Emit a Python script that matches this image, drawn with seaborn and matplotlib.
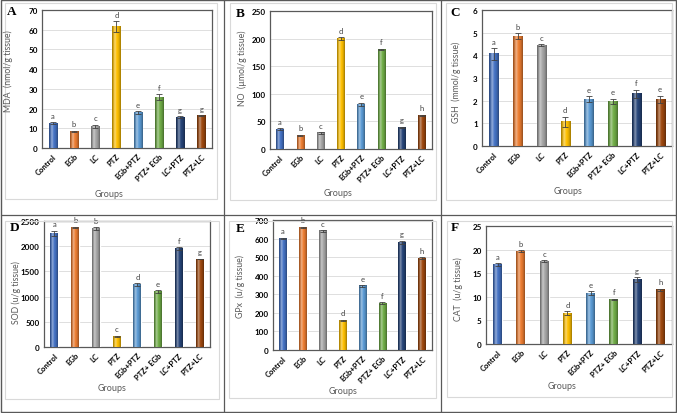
import numpy as np
import pandas as pd
import seaborn as sns
import matplotlib
matplotlib.use("Agg")
import matplotlib.pyplot as plt
from matplotlib.patches import Rectangle
from matplotlib.lines import Line2D
from matplotlib.colors import to_rgb

# ---------------- data ----------------
groups = ["Control", "EGb", "LC", "PTZ", "EGb+PTZ", "PTZ+ EGb", "LC+PTZ", "PTZ+LC"]
colors = ["#4472C4", "#ED7D31", "#A5A5A5", "#FFC000", "#5B9BD5", "#70AD47", "#264478", "#9E480E"]

mda = [12.6, 8.4, 10.9, 61.4, 18.1, 25.7, 15.6, 16.3]
mda_err = [0.5, 0.3, 0.8, 2.8, 0.6, 1.5, 0.4, 0.3]
mda_sig = ["a", "b", "c", "d", "e", "f", "g", "g"]

no = [36, 25, 29, 200, 81, 181, 39, 61]
no_err = [1.5, 1.0, 1.5, 2.0, 3.0, 1.0, 1.0, 1.0]
no_sig = ["a", "b", "c", "d", "e", "f", "g", "h"]

gsh = [4.06, 4.84, 4.45, 1.08, 2.06, 1.97, 2.30, 2.06]
gsh_err = [0.25, 0.14, 0.03, 0.22, 0.13, 0.12, 0.18, 0.16]
gsh_sig = ["a", "b", "c", "d", "e", "e", "f", "e"]

sod = [2250, 2375, 2345, 210, 1237, 1100, 1945, 1745]
sod_err = [55, 12, 30, 10, 30, 25, 30, 8]
sod_sig = ["a", "b", "b", "c", "d", "e", "f", "g"]

gpx = [601, 660, 641, 158, 345, 252, 580, 495]
gpx_err = [4, 4, 4, 4, 4, 4, 8, 4]
gpx_sig = ["a", "b", "c", "d", "e", "f", "g", "h"]

cat = [16.8, 19.7, 17.5, 6.5, 10.8, 9.4, 13.6, 11.5]
cat_err = [0.35, 0.15, 0.2, 0.4, 0.4, 0.15, 0.5, 0.2]
cat_sig = ["a", "b", "c", "d", "e", "f", "g", "h"]

# ---------------- figure ----------------
sns.set_theme(style="white")
plt.rcParams["font.family"] = ["Lato", "DejaVu Sans"]

W, H = 677, 414
fig = plt.figure(figsize=(W / 100, H / 100), dpi=100)
fig.patch.set_facecolor("white")


def fx(x):
    return x / W


def fy(y):
    return 1 - y / H


def px_axes(l, t, r, b):
    return fig.add_axes([l / W, 1 - b / H, (r - l) / W, (b - t) / H])


# frame, dividers and inner boxes
for (x0, y0, x1, y1) in [(5, 4, 217, 200), (230, 4, 436, 201), (446, 4, 672, 201),
                         (5, 222, 219, 400), (229, 222, 436, 399), (447, 222, 672, 398)]:
    fig.add_artist(Rectangle((fx(x0), fy(y1)), (x1 - x0) / W, (y1 - y0) / H,
                             transform=fig.transFigure, fill=False,
                             edgecolor="#d9d9d9", lw=0.8))
fig.add_artist(Rectangle((fx(1), fy(413)), 675 / W, 412 / H, transform=fig.transFigure,
                         fill=False, edgecolor="#595959", lw=1.0))
fig.add_artist(Line2D([fx(224), fx(224)], [fy(1), fy(413)], transform=fig.transFigure,
                      color="#595959", lw=0.9))
fig.add_artist(Line2D([fx(441), fx(441)], [fy(1), fy(413)], transform=fig.transFigure,
                      color="#595959", lw=0.9))
fig.add_artist(Line2D([fx(1), fx(676)], [fy(216), fy(216)], transform=fig.transFigure,
                      color="#595959", lw=0.9))

panels = [
    dict(vals=mda, err=mda_err, sig=mda_sig, box=(42, 11, 212, 149), ymax=70, step=10,
         ylabel="MDA  (nmol/g tissue)", yl=(8, 71), xl=(109, 195), letter="A", lp=(12, 12)),
    dict(vals=no, err=no_err, sig=no_sig, box=(270, 12, 432, 150), ymax=250, step=50,
         ylabel="NO  (µmol/g tissue)", yl=(242, 68), xl=(338, 193), letter="B", lp=(240, 14)),
    dict(vals=gsh, err=gsh_err, sig=gsh_sig, box=(482, 11, 672, 147), ymax=6, step=1,
         ylabel="GSH  (mmol/g tissue)", yl=(456, 82), xl=(568, 191), letter="C", lp=(455, 13)),
    dict(vals=sod, err=sod_err, sig=sod_sig, box=(44, 222, 210, 348), ymax=2500, step=500,
         ylabel="SOD (u/g tissue)", yl=(16, 293), xl=(112, 389), letter="D", lp=(15, 228)),
    dict(vals=gpx, err=gpx_err, sig=gpx_sig, box=(273, 221, 432, 351), ymax=700, step=100,
         ylabel="GPx  (u/g tissue)", yl=(240, 287), xl=(343, 392), letter="E", lp=(240, 229)),
    dict(vals=cat, err=cat_err, sig=cat_sig, box=(486, 227, 672, 345), ymax=25, step=5,
         ylabel="CAT  (u/g tissue)", yl=(458, 289), xl=(562, 387), letter="F", lp=(455, 228)),
]

t = np.linspace(-1, 1, 40)


def shade(color):
    c = np.array(to_rgb(color))
    f = (1 - 0.38 * t ** 2)[:, None]
    col = c[None, :] * f
    hl = (0.40 * np.exp(-((t + 0.35) / 0.28) ** 2))[:, None]
    col = col + (1 - col) * hl
    return np.clip(col, 0, 1)[None, :, :]


for p in panels:
    ax = px_axes(*p["box"])
    df = pd.DataFrame({"group": groups, "value": p["vals"]})
    sns.barplot(data=df, x="group", y="value", hue="group", palette=colors,
                order=groups, hue_order=groups, legend=False, ax=ax,
                width=0.38, errorbar=None, saturation=1, zorder=3)
    # cylinder-like shading on top of each seaborn bar
    for patch, col in zip(ax.patches, colors):
        x0, y0 = patch.get_x(), patch.get_y()
        w, h = patch.get_width(), patch.get_height()
        ax.imshow(shade(col), extent=[x0, x0 + w, y0, y0 + h], aspect="auto",
                  interpolation="bilinear", zorder=3.2)
    xs = np.arange(len(groups))
    ax.errorbar(xs, p["vals"], yerr=p["err"], fmt="none", ecolor="#404040",
                elinewidth=0.6, capsize=2, capthick=0.6, zorder=4)
    for i, (v, e, s) in enumerate(zip(p["vals"], p["err"], p["sig"])):
        ax.annotate(s, xy=(i, v + e), xytext=(0, 2.5), textcoords="offset points",
                    ha="center", va="bottom", fontsize=5.5, color="#404040",
                    annotation_clip=False, zorder=5)
    ax.set_xlim(-0.5, 7.5)
    ax.set_ylim(0, p["ymax"])
    ax.set_yticks(np.arange(0, p["ymax"] + p["step"] / 2, p["step"]))
    ax.set_yticklabels([str(int(tk)) for tk in ax.get_yticks()], fontsize=5.8,
                       fontweight="bold", color="black")
    ax.set_xticks(xs)
    ax.set_xticklabels(groups, rotation=45, ha="right", rotation_mode="anchor",
                       fontsize=5.5, fontweight="bold", color="black")
    ax.tick_params(axis="both", length=0, pad=3)
    ax.set_xlabel("")
    ax.set_ylabel("")
    ax.yaxis.grid(True, color="#d9d9d9", lw=0.6, zorder=0)
    ax.set_axisbelow(True)
    for sp in ax.spines.values():
        sp.set_visible(True)
        sp.set_color("#595959")
        sp.set_linewidth(0.9)
    fig.text(fx(p["yl"][0]), fy(p["yl"][1]), p["ylabel"], rotation=90, ha="center",
             va="center", fontsize=6.3, color="#595959")
    fig.text(fx(p["xl"][0]), fy(p["xl"][1]), "Groups", ha="center", va="center",
             fontsize=6.5, color="#595959")
    fig.text(fx(p["lp"][0]), fy(p["lp"][1]), p["letter"], ha="center", va="center",
             fontsize=9.5, fontweight="bold", family=["Liberation Serif"], color="black")

fig.savefig("out.png", dpi=100, facecolor="white")
